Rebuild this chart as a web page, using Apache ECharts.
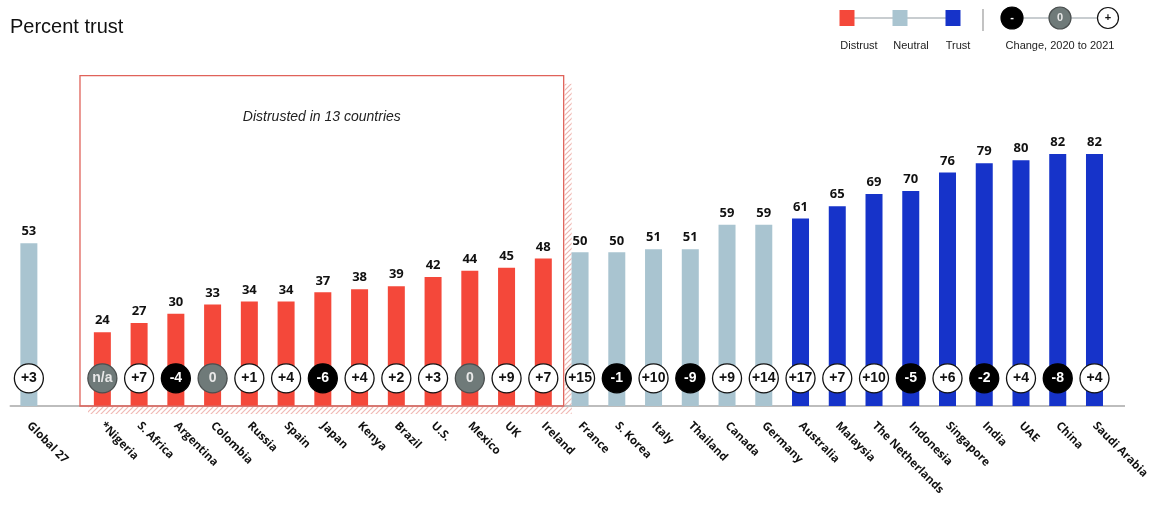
<!DOCTYPE html>
<html>
<head>
<meta charset="utf-8">
<script src="https://cdn.jsdelivr.net/npm/echarts@6/dist/echarts.min.js"></script>
<style>
html,body{margin:0;padding:0;background:#fff;}
#chart{width:1152px;height:508px;}
</style>
</head>
<body>
<div id="chart"></div>
<script>
// ---- Data ----
const categories = ['Global 27', '', '*Nigeria', 'S. Africa', 'Argentina', 'Colombia', 'Russia', 'Spain', 'Japan', 'Kenya', 'Brazil', 'U.S.', 'Mexico', 'UK', 'Ireland', 'France', 'S. Korea', 'Italy', 'Thailand', 'Canada', 'Germany', 'Australia', 'Malaysia', 'The Netherlands', 'Indonesia', 'Singapore', 'India', 'UAE', 'China', 'Saudi Arabia'];
const trustValues = [53, null, 24, 27, 30, 33, 34, 34, 37, 38, 39, 42, 44, 45, 48, 50, 50, 51, 51, 59, 59, 61, 65, 69, 70, 76, 79, 80, 82, 82];
const changeLabels = ['+3', null, 'n/a', '+7', '-4', '0', '+1', '+4', '-6', '+4', '+2', '+3', '0', '+9', '+7', '+15', '-1', '+10', '-9', '+9', '+14', '+17', '+7', '+10', '-5', '+6', '-2', '+4', '-8', '+4'];
const annotationText = 'Distrusted in 13 countries';
const legendLabels = ['Distrust', 'Neutral', 'Trust'];
const changeLegendLabel = 'Change, 2020 to 2021';

// ---- Styles ----
const COLORS = { distrust: '#f4483a', neutral: '#a9c4d0', trust: '#1633c9' };
function groupOf(v) { return v < 50 ? 'distrust' : (v < 60 ? 'neutral' : 'trust'); }
const CHANGE_Y = 9;

const chart = echarts.init(document.getElementById('chart'), null, { renderer: 'canvas' });

const barData = trustValues.map(v => v == null ? null : ({ value: v, itemStyle: { color: COLORS[groupOf(v)] } }));
const changeData = [];
changeLabels.forEach((c, i) => {
  if (c == null) return;
  let fill = '#ffffff', txt = '#111111', border = '#111111';
  if (c.charAt(0) === '-') { fill = '#000000'; txt = '#ffffff'; border = '#000000'; }
  else if (c === '0' || c === 'n/a') { fill = '#6f7a79'; txt = '#e8e8e8'; border = '#4a4f4f'; }
  changeData.push({
    value: [categories[i], CHANGE_Y],
    name: c,
    itemStyle: { color: fill, borderColor: border, borderWidth: 1.3, opacity: 1 },
    label: { color: txt }
  });
});

const option = {
  animation: false,
  title: {
    text: 'Percent trust', left: 5, top: 12,
    textStyle: { fontFamily: 'Liberation Sans', fontSize: 20, fontWeight: 'normal', color: '#111' }
  },
  grid: { left: 10.5, right: 34.5, top: 68, bottom: 102, containLabel: false },
  xAxis: {
    type: 'category', data: categories,
    axisLine: { show: true, lineStyle: { color: '#bdbdbd', width: 2 } },
    axisTick: { show: false },
    axisLabel: {
      interval: 0, rotate: -45, margin: 18,
      fontFamily: 'Open Sans', fontWeight: 'bold', fontSize: 11.5, color: '#111'
    }
  },
  yAxis: { type: 'value', min: 0, max: 110, show: false, splitLine: { show: false } },
  series: [
    {
      type: 'bar', data: barData, barWidth: 17, z: 2,
      label: {
        show: true, position: 'top', distance: 5,
        fontFamily: 'Open Sans', fontWeight: 'bold', fontSize: 13, color: '#111'
      }
    },
    {
      type: 'scatter', data: changeData, symbol: 'circle', symbolSize: 29, z: 5,
      itemStyle: { opacity: 1 },
      emphasis: { disabled: true },
      label: {
        show: true, position: 'inside', formatter: p => p.name,
        fontFamily: '"Liberation Sans Narrow", "Liberation Sans"', fontWeight: 'bold', fontSize: 14
      }
    }
  ]
};
chart.setOption(option);

// ---- Annotation box & legend (graphic) ----
function hatchPattern() {
  const c = document.createElement('canvas');
  c.width = 5; c.height = 5;
  const ctx = c.getContext('2d');
  ctx.fillStyle = '#ffffff'; ctx.fillRect(0, 0, 5, 5);
  ctx.strokeStyle = '#f0b9b4'; ctx.lineWidth = 1.2;
  ctx.beginPath();
  ctx.moveTo(0, 5); ctx.lineTo(5, 0);
  ctx.moveTo(-1, 1); ctx.lineTo(1, -1);
  ctx.moveTo(4, 6); ctx.lineTo(6, 4);
  ctx.stroke();
  return { image: c, repeat: 'repeat' };
}

const firstIdx = categories.indexOf('*Nigeria');
const lastIdx = categories.indexOf('Ireland');
const p0 = chart.convertToPixel({ xAxisIndex: 0 }, categories[firstIdx]);
const p1 = chart.convertToPixel({ xAxisIndex: 0 }, categories[lastIdx]);
const band = chart.convertToPixel({ xAxisIndex: 0 }, categories[1]) - chart.convertToPixel({ xAxisIndex: 0 }, categories[0]);
const boxL = p0 - band / 2 - 4;
const boxR = p1 + band / 2 + 2;
const boxT = chart.convertToPixel({ yAxisIndex: 0 }, 107.5);
const boxB = chart.convertToPixel({ yAxisIndex: 0 }, 0);
const sh = 7;
const pat = hatchPattern();

const legendX = [847, 900, 953];
const legendColors = [COLORS.distrust, COLORS.neutral, COLORS.trust];
const circX = [1012, 1060, 1108];

const graphics = [
  { type: 'rect', shape: { x: boxR + 1, y: boxT + 8, width: sh, height: boxB - boxT - 8 + sh }, style: { fill: pat }, z: 0, silent: true },
  { type: 'rect', shape: { x: boxL + 8, y: boxB + 1, width: boxR - boxL - 8 + sh + 1, height: sh }, style: { fill: pat }, z: 0, silent: true },
  { type: 'rect', shape: { x: boxL, y: boxT, width: boxR - boxL, height: boxB - boxT }, style: { fill: 'none', stroke: '#e0625a', lineWidth: 1.3 }, z: 3, silent: true },
  { type: 'text', x: (boxL + boxR) / 2, y: boxT + 41, style: { text: annotationText, font: 'italic 14px "Liberation Sans"', fill: '#222', align: 'center', verticalAlign: 'middle' }, z: 3 },
  // axis extension to the right like the reference
  { type: 'line', shape: { x1: 1105, y1: boxB, x2: 1125, y2: boxB }, style: { stroke: '#bdbdbd', lineWidth: 2 }, z: 1 },
  // legend
  { type: 'line', shape: { x1: legendX[0], y1: 18, x2: legendX[2], y2: 18 }, style: { stroke: '#c8cdd0', lineWidth: 2 }, z: 1 },
  { type: 'line', shape: { x1: 983, y1: 9, x2: 983, y2: 31 }, style: { stroke: '#9a9a9a', lineWidth: 1.2 }, z: 1 },
  { type: 'line', shape: { x1: circX[0], y1: 18, x2: circX[2], y2: 18 }, style: { stroke: '#c8cdd0', lineWidth: 2 }, z: 1 },
  { type: 'text', x: 1060, y: 46, style: { text: changeLegendLabel, font: '11px "Liberation Sans"', fill: '#222', align: 'center', verticalAlign: 'middle' }, z: 3 }
];
legendLabels.forEach((t, i) => {
  graphics.push({ type: 'rect', shape: { x: legendX[i] - 7.5, y: 10, width: 15, height: 16 }, style: { fill: legendColors[i] }, z: 2 });
  graphics.push({ type: 'text', x: legendX[i] + (i === 0 ? 12 : (i === 1 ? 11 : 5)), y: 46, style: { text: t, font: '11px "Liberation Sans"', fill: '#222', align: 'center', verticalAlign: 'middle' }, z: 3 });
});
const circStyles = [
  { fill: '#000', stroke: '#000', txt: '#fff', t: '-', r: 11 },
  { fill: '#6f7a79', stroke: '#4a4f4f', txt: '#e8e8e8', t: '0', r: 11 },
  { fill: '#fff', stroke: '#111', txt: '#111', t: '+', r: 10.5 }
];
circStyles.forEach((s, i) => {
  graphics.push({ type: 'circle', shape: { cx: circX[i], cy: 18, r: s.r }, style: { fill: s.fill, stroke: s.stroke, lineWidth: 1.2 }, z: 2 });
  graphics.push({ type: 'text', x: circX[i], y: 18, style: { text: s.t, font: 'bold 11px "Liberation Sans"', fill: s.txt, align: 'center', verticalAlign: 'middle' }, z: 3 });
});

chart.setOption({ graphic: { elements: graphics } });
</script>
</body>
</html>
